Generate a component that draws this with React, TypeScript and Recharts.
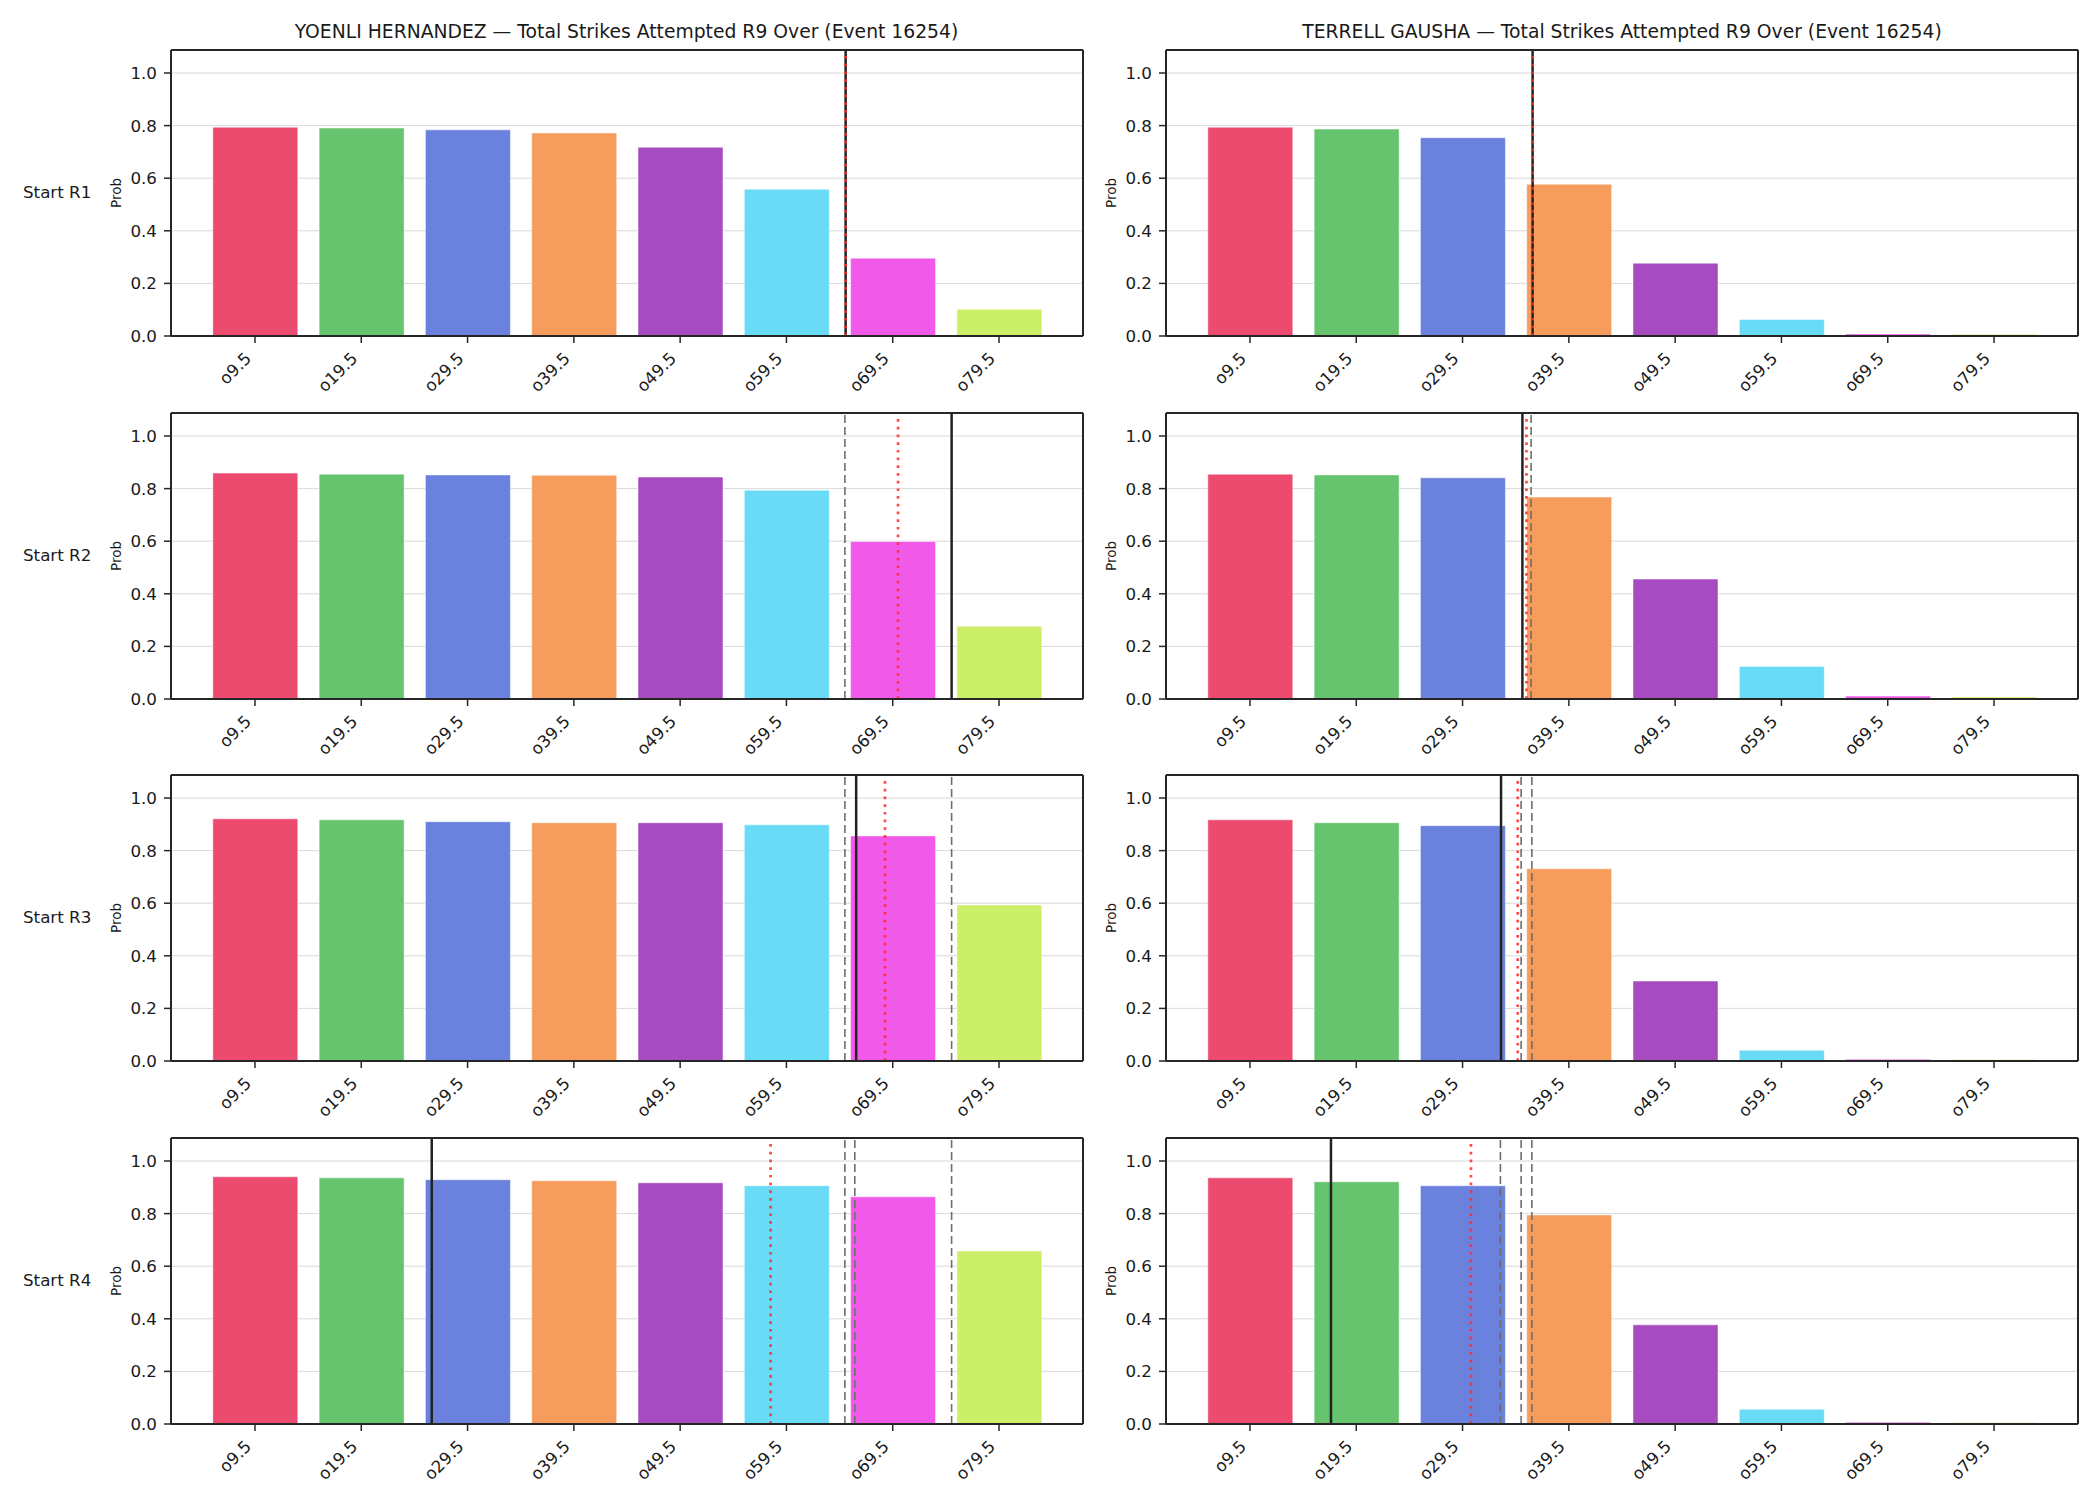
import {
  Bar,
  BarChart,
  CartesianGrid,
  Cell,
  ReferenceLine,
  XAxis,
  YAxis,
} from 'recharts'

const FONT = '"DejaVu Sans", sans-serif'
const INK = '#1a1a1a'
const SPINE = '#262626'

const CATEGORIES = ['o9.5', 'o19.5', 'o29.5', 'o39.5', 'o49.5', 'o59.5', 'o69.5', 'o79.5']
const COLORS = ['#ec4a6f', '#66c46f', '#6a82de', '#f69c5c', '#a64cc0', '#69dbf6', '#f15ae8', '#ccef69']
const ROUNDS = ['Start R1', 'Start R2', 'Start R3', 'Start R4']
const Y_TICKS = [0, 0.2, 0.4, 0.6, 0.8, 1.0]
const X_DOMAIN: [number, number] = [-0.79, 7.79]
const Y_DOMAIN: [number, number] = [0, 1.0875]

// over probabilities per starting round
const hernandezR1 = [0.794, 0.791, 0.784, 0.772, 0.718, 0.558, 0.296, 0.102]
const hernandezR2 = [0.859, 0.855, 0.852, 0.851, 0.844, 0.794, 0.599, 0.277]
const hernandezR3 = [0.921, 0.917, 0.91, 0.906, 0.906, 0.898, 0.856, 0.593]
const hernandezR4 = [0.94, 0.936, 0.929, 0.925, 0.917, 0.906, 0.864, 0.658]

const gaushaR1 = [0.794, 0.787, 0.754, 0.577, 0.277, 0.063, 0.008, 0.007]
const gaushaR2 = [0.855, 0.852, 0.841, 0.768, 0.456, 0.124, 0.011, 0.008]
const gaushaR3 = [0.917, 0.906, 0.895, 0.731, 0.304, 0.041, 0.007, 0.006]
const gaushaR4 = [0.936, 0.921, 0.906, 0.795, 0.377, 0.056, 0.007, 0.006]

// marker positions on the category index scale
const hernandezSolid = [5.557, 6.554, 5.656, 1.663]
const hernandezDotted = [5.557, 6.05, 5.927, 4.851]
const hernandezDashed = [[], [5.55], [5.55, 6.554], [5.55, 5.643, 6.554]]

const gaushaSolid = [2.659, 2.563, 2.362, 0.762]
const gaushaDotted = [2.659, 2.601, 2.519, 2.079]
const gaushaDashed = [[], [2.645], [2.551, 2.652], [2.356, 2.551, 2.652]]

const fighters = [
  {
    title: 'YOENLI HERNANDEZ — Total Strikes Attempted R9 Over (Event 16254)',
    probs: [hernandezR1, hernandezR2, hernandezR3, hernandezR4],
    solid: hernandezSolid,
    dotted: hernandezDotted,
    dashed: hernandezDashed,
    plotLeft: 170.5,
  },
  {
    title: 'TERRELL GAUSHA — Total Strikes Attempted R9 Over (Event 16254)',
    probs: [gaushaR1, gaushaR2, gaushaR3, gaushaR4],
    solid: gaushaSolid,
    dotted: gaushaDotted,
    dashed: gaushaDashed,
    plotLeft: 1166,
  },
]

const PLOT_W = 912
const PLOT_H = 286
const ROW_TOP = 50
const ROW_STEP = 362.6
const AXIS_W = 80

function XTick({ x, y, payload }: any) {
  const tx = x - 2.8
  const ty = y + 16.6
  return (
    <text
      x={tx}
      y={ty}
      transform={`rotate(-45, ${tx}, ${ty})`}
      textAnchor="end"
      fontSize={16.7}
      fontFamily={FONT}
      fill={INK}
    >
      {CATEGORIES[payload.value]}
    </text>
  )
}

function ProbLabel({ viewBox }: any) {
  const x = viewBox.x + 25
  const y = viewBox.y + viewBox.height / 2
  return (
    <text
      x={x}
      y={y}
      transform={`rotate(-90, ${x}, ${y})`}
      textAnchor="middle"
      dominantBaseline="central"
      fontSize={13.5}
      fontFamily={FONT}
      fill={INK}
    >
      Prob
    </text>
  )
}

function Panel({
  probs,
  solid,
  dotted,
  dashed,
}: {
  probs: number[]
  solid: number
  dotted: number
  dashed: number[]
}) {
  const data = probs.map((p, i) => ({ i, p }))
  return (
    <BarChart
      width={AXIS_W + PLOT_W + 10}
      height={PLOT_H + 80}
      data={data}
      margin={{ top: 10, right: 10, left: 0, bottom: 10 }}
    >
      <CartesianGrid vertical={false} stroke="#e6e6e6" strokeWidth={1} />
      <XAxis
        dataKey="i"
        type="number"
        domain={X_DOMAIN}
        allowDataOverflow
        ticks={[0, 1, 2, 3, 4, 5, 6, 7]}
        interval={0}
        height={60}
        tick={<XTick />}
        tickSize={7}
        tickMargin={0}
        tickLine={{ stroke: SPINE, strokeWidth: 1.5 }}
        axisLine={{ stroke: SPINE, strokeWidth: 2 }}
      />
      <YAxis
        type="number"
        domain={Y_DOMAIN}
        allowDataOverflow
        ticks={Y_TICKS}
        width={AXIS_W}
        tickFormatter={(v: number) => v.toFixed(1)}
        tick={{ fontSize: 16.7, fontFamily: FONT, fill: INK }}
        tickSize={7}
        tickMargin={7}
        tickLine={{ stroke: SPINE, strokeWidth: 1.5 }}
        axisLine={{ stroke: SPINE, strokeWidth: 2 }}
        label={<ProbLabel />}
      />
      <Bar dataKey="p" barSize={85} stroke="#ffffff" strokeWidth={0.5} isAnimationActive={false}>
        {data.map((_, i) => (
          <Cell key={i} fill={COLORS[i % COLORS.length]} />
        ))}
      </Bar>
      <CartesianGrid vertical={false} stroke="#c8c8c8" strokeOpacity={0.35} strokeWidth={1} />
      {dashed.map((v, k) => (
        <ReferenceLine
          key={`d${k}`}
          x={v}
          stroke="#6e6e6e"
          strokeWidth={1.6}
          strokeDasharray="8 4"
        />
      ))}
      <ReferenceLine x={solid} stroke="#222222" strokeWidth={2.5} />
      <ReferenceLine
        x={dotted}
        stroke="#ff2a2a"
        strokeOpacity={0.85}
        strokeWidth={2.7}
        strokeDasharray="2.7 5"
      />
      {/* top and right frame edges */}
      <ReferenceLine y={Y_DOMAIN[1]} stroke={SPINE} strokeWidth={2} ifOverflow="visible" />
      <ReferenceLine x={X_DOMAIN[1]} stroke={SPINE} strokeWidth={2} ifOverflow="visible" />
    </BarChart>
  )
}

export default function App() {
  return (
    <div
      style={{
        position: 'absolute',
        left: 0,
        top: 0,
        width: 2100,
        height: 1500,
        background: '#ffffff',
        fontFamily: FONT,
        color: INK,
      }}
    >
      {fighters.map((f) => (
        <div
          key={f.title}
          style={{
            position: 'absolute',
            left: f.plotLeft - 200,
            width: PLOT_W + 400,
            top: 23,
            textAlign: 'center',
            fontSize: 18.75,
            lineHeight: 1,
            whiteSpace: 'nowrap',
          }}
        >
          {f.title}
        </div>
      ))}
      {ROUNDS.map((r, k) => (
        <div
          key={r}
          style={{
            position: 'absolute',
            left: 23,
            top: ROW_TOP + k * ROW_STEP + PLOT_H / 2 - 9,
            fontSize: 16.7,
            lineHeight: 1,
            whiteSpace: 'nowrap',
          }}
        >
          {r}
        </div>
      ))}
      {fighters.map((f) =>
        f.probs.map((probs, k) => (
          <div
            key={`${f.title}-${k}`}
            style={{
              position: 'absolute',
              left: f.plotLeft - AXIS_W,
              top: ROW_TOP + k * ROW_STEP - 10,
            }}
          >
            <Panel
              probs={probs}
              solid={f.solid[k]}
              dotted={f.dotted[k]}
              dashed={f.dashed[k]}
            />
          </div>
        )),
      )}
    </div>
  )
}
